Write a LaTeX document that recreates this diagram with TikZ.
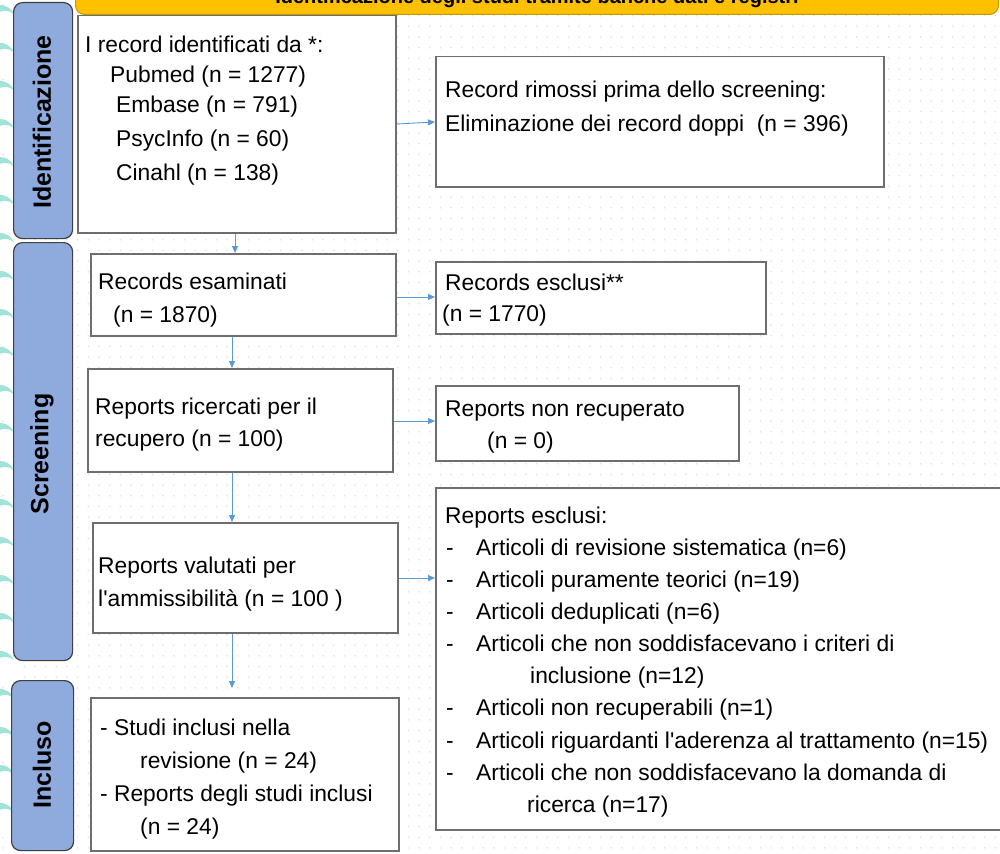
\documentclass[tikz,border=0pt]{standalone}
\usepackage{fontspec}
\setmainfont{Liberation Sans}
\usetikzlibrary{arrows.meta}
\definecolor{bannerfill}{HTML}{FFC000}
\definecolor{bannerline}{HTML}{C49A00}
\definecolor{labelblue}{HTML}{8FAADC}
\definecolor{labelline}{HTML}{3F3F3F}
\definecolor{boxline}{HTML}{6E6E6E}
\definecolor{arrowblue}{HTML}{5B9BD5}
\definecolor{dotcol}{HTML}{E0E0E0}
\definecolor{tealdeco}{HTML}{9FE4D7}
\begin{document}
\begin{tikzpicture}[x=1pt,y=-1pt,
  box/.style={draw=boxline, line width=1.5pt, fill=white, anchor=north west, inner sep=0pt},
  lbl/.style={draw=labelline, fill=labelblue, rounded corners=9pt, line width=1.2pt, anchor=north west, inner sep=0pt},
  lbltxt/.style={rotate=90, font=\bfseries\fontsize{25}{29}\selectfont, inner sep=0pt},
  txt/.style={anchor=base west, font=\fontsize{22.8}{26}\selectfont, inner sep=0pt},
  conn/.style={draw=arrowblue, line width=0.9pt, -{Triangle[length=7pt,width=6pt]}}]
\useasboundingbox (0,0) rectangle (1000,853);
\clip (0,0) rectangle (1000,853);
\fill[white] (0,0) rectangle (1000,853);
% dotted background grid
\foreach \yy in {5,15.67,...,853}
  \draw[dotcol, line width=1.8pt, line cap=round, dash pattern=on 0pt off 10.67pt] (3,\yy) -- (1000,\yy);
% teal decorations on the left edge
\foreach \yy in {20,58,...,853} {
  \fill[tealdeco] (0,\yy) circle (15);
  \fill[white] (5,\yy+5) circle (14);
}
% banner
\node[fill=bannerfill, draw=bannerline, line width=1pt, rounded corners=9pt, minimum width=923pt, minimum height=45pt, anchor=south west, inner sep=0pt] (ban) at (75,15) {};
\node[anchor=base, font=\bfseries\fontsize{20}{24}\selectfont, inner sep=0pt] (bantxt) at (537,4) {Identificazione degli studi tramite banche dati e registri};
% phase labels
\node[lbl, minimum width=59pt, minimum height=236pt] (lid) at (13,2) {};
\node[lbltxt] (tid) at (42,122) {Identificazione};
\node[lbl, minimum width=59pt, minimum height=418pt] (lsc) at (13,242) {};
\node[lbltxt] (tsc) at (42,454) {Screening};
\node[lbl, minimum width=62pt, minimum height=170pt] (lin) at (11,680) {};
\node[lbltxt] (tin) at (42,765) {Incluso};
% boxes
\node[box, minimum width=318pt, minimum height=217pt] (b1) at (77,15) {};
\node[box, minimum width=448pt, minimum height=130pt] (b2) at (435,56) {};
\node[box, minimum width=305pt, minimum height=82pt] (b3) at (90,253) {};
\node[box, minimum width=330pt, minimum height=72pt] (b4) at (435,261) {};
\node[box, minimum width=305pt, minimum height=103pt] (b5) at (87,368) {};
\node[box, minimum width=303pt, minimum height=75pt] (b6) at (435,385) {};
\node[box, minimum width=305pt, minimum height=110pt] (b7) at (92,522) {};
\node[box, minimum width=580pt, minimum height=342pt] (b8) at (435,487) {};
\node[box, minimum width=308pt, minimum height=153pt] (b9) at (90,697) {};
% texts box 1
\node[txt] (t1a) at (85,53) {I record identificati da *:};
\node[txt] (t1b) at (110,83) {Pubmed (n = 1277)};
\node[txt] (t1c) at (116,113) {Embase (n = 791)};
\node[txt] (t1d) at (116,147) {PsycInfo (n = 60)};
\node[txt] (t1e) at (116,180) {Cinahl (n = 138)};
% box 2
\node[txt] (t2a) at (445,98) {Record rimossi prima dello screening:};
\node[txt] (t2b) at (445,132) {Eliminazione dei record doppi\ \ (n = 396)};
% box 3
\node[txt] (t3a) at (98,289) {Records esaminati};
\node[txt] (t3b) at (113,322) {(n = 1870)};
% box 4
\node[txt] (t4a) at (445,290) {Records esclusi**};
\node[txt] (t4b) at (442,321) {(n = 1770)};
% box 5
\node[txt] (t5a) at (95,414) {Reports ricercati per il};
\node[txt] (t5b) at (95,446) {recupero (n = 100)};
% box 6
\node[txt] (t6a) at (445,416) {Reports non recuperato};
\node[txt] (t6b) at (487,448) {(n = 0)};
% box 7
\node[txt] (t7a) at (98,573) {Reports valutati per};
\node[txt] (t7b) at (98,606) {l\textquotesingle ammissibilità (n = 100 )};
% box 8
\node[txt] (t8a) at (445,523) {Reports esclusi:};
\foreach \yy/\nm/\tx in {555/i1/{Articoli di revisione sistematica (n=6)},
  587/i2/{Articoli puramente teorici (n=19)},
  619/i3/{Articoli deduplicati (n=6)},
  651/i4/{Articoli che non soddisfacevano i criteri di},
  715/i5/{Articoli non recuperabili (n=1)},
  748/i6/{Articoli riguardanti l\textquotesingle aderenza al trattamento (n=15)},
  780/i7/{Articoli che non soddisfacevano la domanda di}} {
  \node[txt] (d\nm) at (446,\yy) {-};
  \node[txt] (t\nm) at (476,\yy) {\tx};
}
\node[txt] (ti4b) at (530,683) {inclusione (n=12)};
\node[txt] (ti7b) at (527,812) {ricerca (n=17)};
% box 9
\node[txt] (t9a) at (100,735) {- Studi inclusi nella};
\node[txt] (t9b) at (140,768) {revisione (n = 24)};
\node[txt] (t9c) at (100,801) {- Reports degli studi inclusi};
\node[txt] (t9d) at (140,834) {(n = 24)};
% connectors
\draw[conn] (b1.east |- 0,124) -- (b2.west |- 0,122);
\draw[conn] (b1.south -| 235,0) -- (b3.north -| 235,0);
\draw[conn] (b3.east |- 0,297) -- (b4.west |- 0,297);
\draw[conn] (b3.south -| 232,0) -- (b5.north -| 232,0);
\draw[conn] (b5.east |- 0,421) -- (b6.west |- 0,421);
\draw[conn] (b5.south -| 232,0) -- (b7.north -| 232,0);
\draw[conn] (b7.east |- 0,578) -- (b8.west |- 0,578);
\draw[conn, shorten >=9pt] (b7.south -| 232,0) -- (b9.north -| 232,0);
\end{tikzpicture}
\end{document}
